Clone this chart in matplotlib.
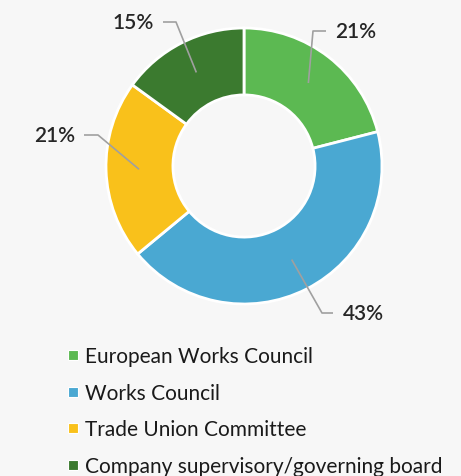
import matplotlib.pyplot as plt
from matplotlib.lines import Line2D
import numpy as np

plt.rcParams["font.family"] = ["Lato", "DejaVu Sans"]

categories = [
    "European Works Council",
    "Works Council",
    "Trade Union Committee",
    "Company supervisory/governing board",
]
shares = [21, 43, 21, 15]
colors = ["#5cb952", "#4aa8d2", "#f9c11b", "#3b7a2f"]

# label layout in pixel space (x, y from top): elbow point, end of line, text anchor
label_layout = [
    ((313, 32), (326, 32), (335, 32), "left"),
    ((322, 314), (333, 314), (343, 314), "left"),
    ((98, 136), (84, 136), (75, 136), "right"),
    ((176, 23), (163, 23), (154, 23), "right"),
]

W, H = 461, 477
fig = plt.figure(figsize=(W / 100, H / 100), dpi=100)
fig.patch.set_facecolor("#f7f7f7")
ax = fig.add_axes([0, 0, 1, 1])

cx, cy, R = 244, H - 167, 138
wedges, _ = ax.pie(
    shares,
    colors=colors,
    startangle=90,
    counterclock=False,
    center=(cx, cy),
    radius=R,
    frame=True,
    wedgeprops=dict(width=R * 0.485, edgecolor="white", linewidth=2),
)
ax.set_xlim(0, W)
ax.set_ylim(0, H)
ax.set_aspect("equal")
ax.axis("off")

for w, val, (elbow, end, txt, ha) in zip(wedges, shares, label_layout):
    mid = np.deg2rad((w.theta1 + w.theta2) / 2)
    ax_x = cx + 105 * np.cos(mid)
    ax_y = cy + 105 * np.sin(mid)
    xs = [ax_x, elbow[0], end[0]]
    ys = [ax_y, H - elbow[1], H - end[1]]
    ax.plot(xs, ys, color="#a0a0a0", lw=1.2, solid_capstyle="butt")
    ax.text(txt[0], H - txt[1], f"{val}%", ha=ha, va="center",
            fontsize=15, fontweight="semibold", color="#262626")

handles = [Line2D([], [], marker="s", linestyle="none", markersize=7,
                  markerfacecolor=c, markeredgecolor="white", markeredgewidth=0.8)
           for c in colors]
ax.legend(handles, categories, loc="upper left", bbox_to_anchor=(64.5 / W, 1 - 347.5 / H),
          frameon=False, fontsize=15, handlelength=0.8, handletextpad=0.18,
          labelspacing=0.79, borderaxespad=0, borderpad=0, labelcolor="#1a1a1a")

fig.savefig("out.png", dpi=100, facecolor=fig.get_facecolor())
